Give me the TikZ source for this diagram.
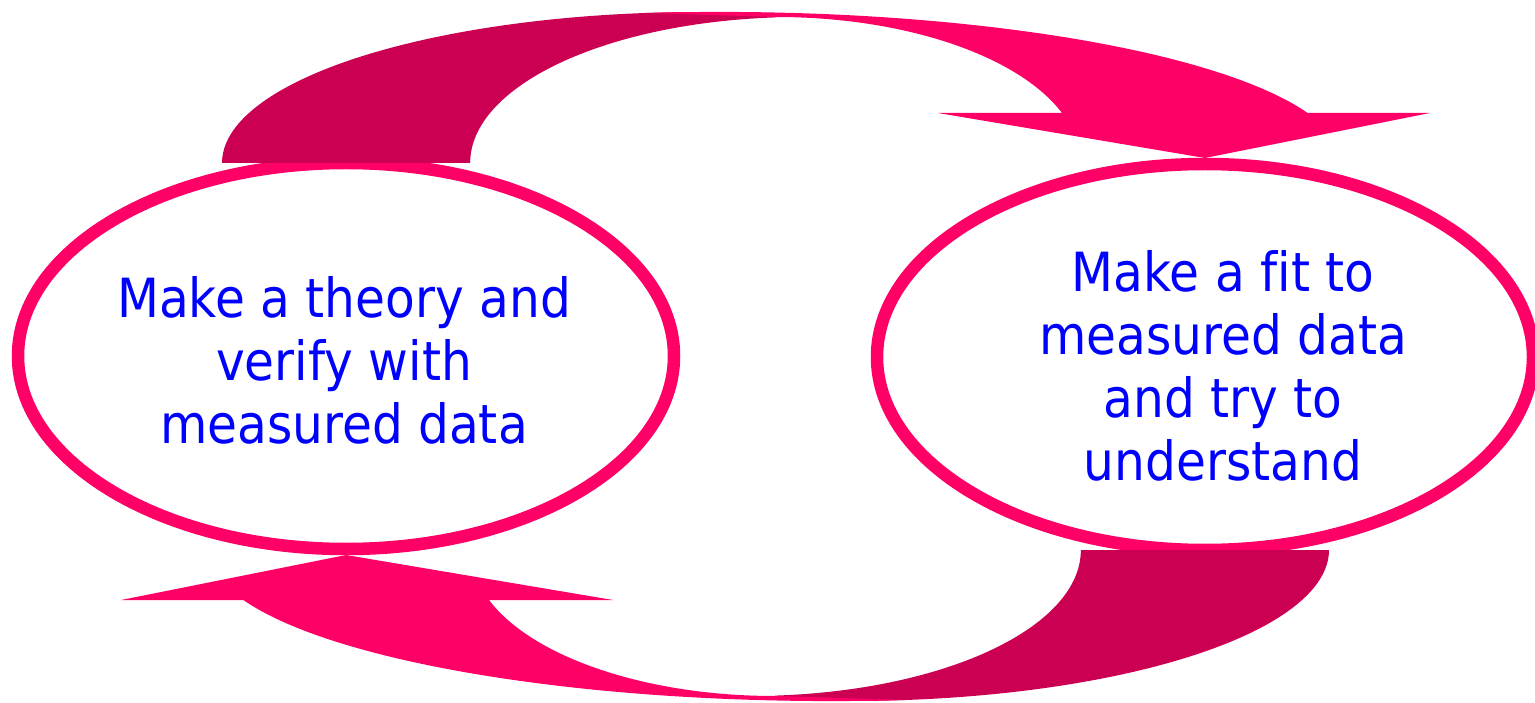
\documentclass[tikz,border=0pt]{standalone}
\usepackage{fontspec}
\setmainfont{DejaVu Sans}[FakeStretch=0.9, Ligatures=NoCommon]
\usetikzlibrary{shapes.geometric}
\definecolor{hotpink}{HTML}{FF0066}
\definecolor{darkpink}{HTML}{CC0052}
\definecolor{textblue}{HTML}{0000FF}

% one bent block arrow: dark back half, bright front half with its head
\newcommand{\bentarrow}{%
  \fill[bandback] (222,163) arc[start angle=180, end angle=279.15, x radius=478, y radius=151]
    -- (776,17.4) arc[start angle=265.8, end angle=180, x radius=330, y radius=146] -- cycle;
  \fill[bandfront] (646,13) arc[start angle=263.2, end angle=340.67, x radius=623, y radius=151]
    -- (1430,113) -- (1205,158) -- (938,113) -- (1062,113)
    arc[start angle=339.97, end angle=270, x radius=304, y radius=146] -- cycle;
}

\begin{document}
\begin{tikzpicture}[x=1pt, y=-1pt,
      stage/.style={ellipse, draw=hotpink, line width=12.5pt, fill=white,
        minimum width=656pt, minimum height=386pt, inner sep=0pt},
      words/.style={align=center, text=textblue, inner sep=0pt,
        font=\fontsize{54}{63}\selectfont},
      bandfront/.style={fill=hotpink},
      bandback/.style={fill=darkpink}]
  \useasboundingbox (0,0) rectangle (1535,703);
  % the two steps
  \node[stage] (theory) at (346,356) {};
  \node[stage] (fit) at (1205,357) {};
  \node[words] (theorytext) at (344,360) {Make a theory and\\verify with\\measured data};
  \node[words] (fittext) at (1223,366) {Make a fit to\\measured data\\and try to\\understand};
  % theory -> fit, then fit -> theory
  \bentarrow
  \begin{scope}[rotate around={180:(775.5,356.5)}]
    \bentarrow
  \end{scope}
\end{tikzpicture}
\end{document}
